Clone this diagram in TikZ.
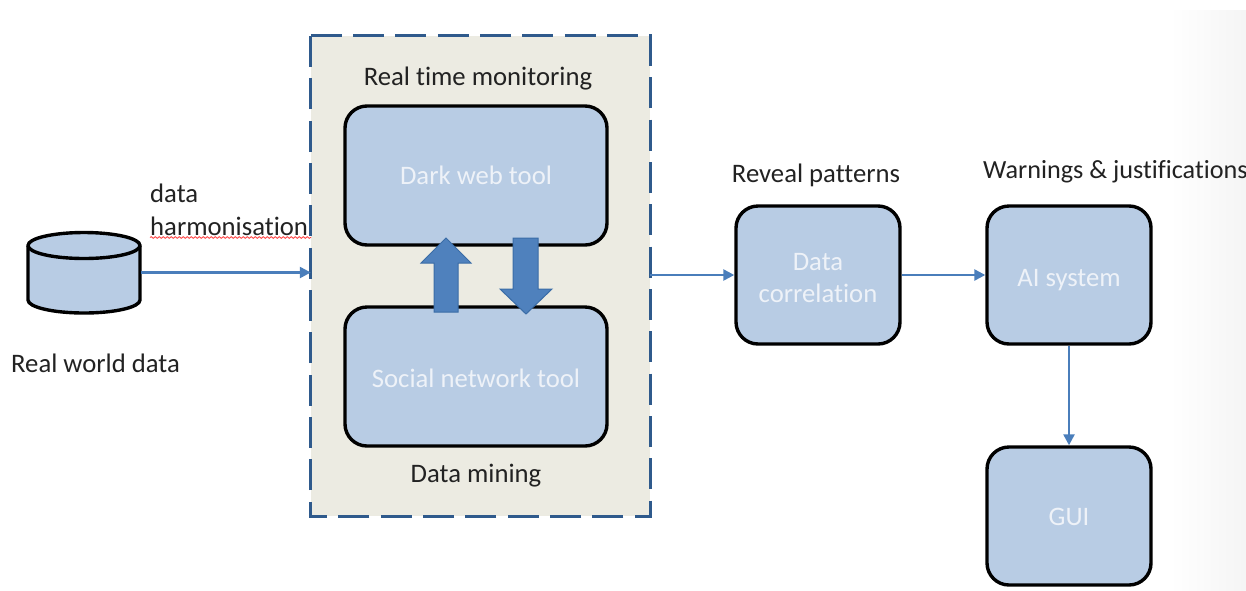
\documentclass[tikz,border=0pt]{standalone}
\usepackage{fontspec}
\setmainfont{Carlito}[Ligatures=NoCommon]
\usetikzlibrary{arrows.meta,decorations.pathmorphing}
\definecolor{boxfill}{HTML}{B8CCE4}
\definecolor{panelfill}{HTML}{ECEBE2}
\definecolor{dashblue}{HTML}{2F5A8C}
\definecolor{linkblue}{HTML}{4A7EBB}
\definecolor{bigblue}{HTML}{4F81BD}
\definecolor{bigedge}{HTML}{3A6CA6}
\definecolor{labelink}{HTML}{222222}
\definecolor{inboxink}{HTML}{EEF2F8}
\newcommand{\pushdown}[1]{\rule{0pt}{#1pt}}
\tikzset{
  x=1pt,y=-1pt,
  panel/.style={fill=panelfill,minimum width=339pt,minimum height=480pt,inner sep=0pt},
  paneledge/.style={draw=dashblue,line width=3.2pt,dash pattern=on 31pt off 11.33pt},
  flowbox/.style={draw=black,fill=boxfill,line width=3.4pt,rounded corners=22pt,inner sep=0pt,text=inboxink,font=\fontsize{26.7}{32}\selectfont,align=center},
  toolbox/.style={flowbox,minimum width=262pt,minimum height=139pt},
  stepbox/.style={flowbox,minimum width=164pt,minimum height=138pt},
  caption/.style={text=labelink,font=\fontsize{26.7}{32}\selectfont,inner sep=0pt,align=left},
  link/.style={draw=linkblue,line width=2.4pt,-{Triangle[length=11pt,width=11pt]}},
  storebody/.style={draw=black,fill=boxfill,line width=3.4pt,line join=round},
  bigarrow/.style={draw=bigedge,fill=bigblue,line width=1pt,line join=miter},
}
\begin{document}
\begin{tikzpicture}
\useasboundingbox (0,0) rectangle (1246,590);
\fill[white] (0,0) rectangle (1246,590);
\shade[left color=white,right color=black!4,draw=none] (1170,10) rectangle (1246,590);

\node[minimum width=113pt,minimum height=81pt,inner sep=0pt] (cyl) at (84,272.5) {};
\draw[storebody] (28,245.5) -- (28,300) arc[start angle=180,end angle=360,x radius=56,y radius=-13] -- (140,245.5) arc[start angle=0,end angle=180,x radius=56,y radius=-13] -- cycle;
\draw[storebody,fill=none] (28,245.5) arc[start angle=180,end angle=360,x radius=56,y radius=-13];

\node[panel] (mon) at (480.5,276) {};
\draw[paneledge] (mon.north west) -- (mon.north east) -- (mon.south east) -- (mon.south west) -- cycle;
\node[toolbox] (dark) at (476,175.5) {Dark web tool};
\node[toolbox] (social) at (476,376.5) {\pushdown{23}Social network tool};
\node[stepbox] (corr) at (818,275) {\pushdown{24}Data\\correlation};
\node[stepbox] (ai) at (1069,275) {\pushdown{27}AI system};
\node[stepbox] (gui) at (1069,516) {\pushdown{20}GUI};

\draw[bigarrow] (434,312) -- (434,263) -- (421,263) -- (446,238) -- (471,263) -- (458,263) -- (458,312) -- cycle;
\draw[bigarrow] (513,238) -- (513,289) -- (500,289) -- (526,314) -- (552,289) -- (538,289) -- (538,238) -- cycle;

\node[caption,anchor=base west] (l1) at (150,202) {data};
\node[caption,anchor=base west] (l2) at (150,235) {harmonisation};
\node[caption,anchor=base west] (l3) at (11,372) {Real world data};
\node[caption,anchor=base] (l4) at (478,85) {Real time monitoring};
\node[caption,anchor=base] (l5) at (476,482) {Data mining};
\node[caption,anchor=base] (l6) at (816,182) {Reveal patterns};
\node[caption,anchor=base west,font=\fontsize{26.2}{32}\selectfont] (l7) at (983,178) {Warnings \& justifications};

\draw[draw=red!75!white,line width=0.8pt,decorate,decoration={snake,amplitude=0.9pt,segment length=4pt}] (l2.base west |- 0,237.5) -- (311,237.5);

\draw[link] (cyl) -- (cyl -| mon.west);
\draw[link] (corr.west -| mon.east) -- (corr.west);
\draw[link] (corr) -- (ai);
\draw[link] (ai) -- (gui);
\end{tikzpicture}
\end{document}
